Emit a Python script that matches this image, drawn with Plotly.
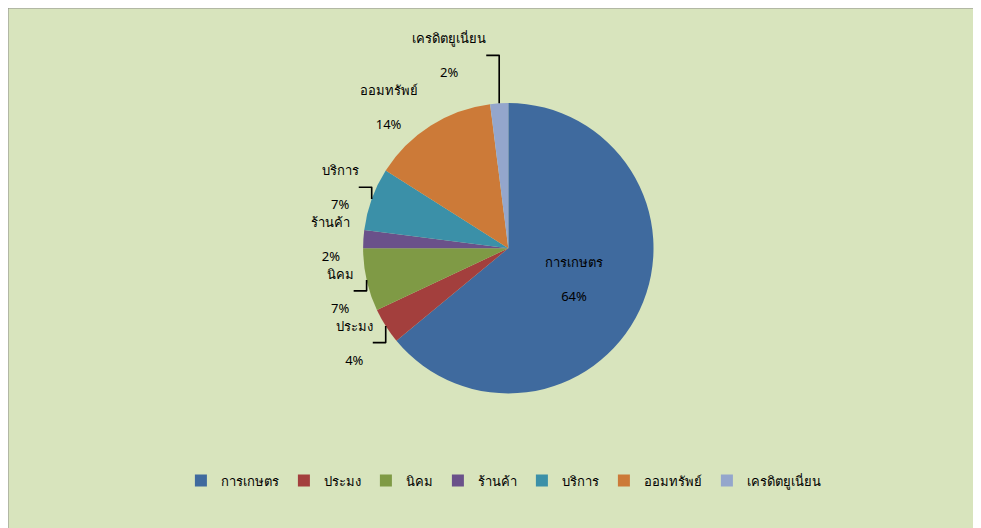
import plotly.graph_objects as go

labels = ["การเกษตร", "ประมง", "นิคม", "ร้านค้า", "บริการ", "ออมทรัพย์", "เครดิตยูเนี่ยน"]
values = [64, 4, 7, 2, 7, 14, 2]
colors = ["#3F6A9E", "#A33F3D", "#7F9A45", "#6A518A", "#3B90A8", "#CC7A38", "#94A6CC"]
text_positions = ["inside", "outside", "outside", "outside", "outside", "outside", "outside"]

fig = go.Figure()
fig.add_trace(go.Pie(
    labels=labels,
    values=values,
    sort=False,
    direction="clockwise",
    rotation=0,
    marker=dict(colors=colors, line=dict(width=0)),
    texttemplate="%{label}<br><br>%{percent:.0%}",
    textposition=text_positions,
    textfont=dict(size=13, color="#000000"),
    insidetextorientation="horizontal",
    domain=dict(x=[0.25, 0.77], y=[0.27, 0.82]),
    hoverinfo="label+percent",
))

fig.update_layout(
    width=981,
    height=528,
    paper_bgcolor="#D8E4BD",
    plot_bgcolor="#D8E4BD",
    margin=dict(l=0, r=0, t=0, b=0),
    font=dict(family="Tahoma, 'Noto Sans', sans-serif", size=13, color="#000000"),
    showlegend=True,
    legend=dict(
        orientation="h",
        x=0.505, xanchor="center",
        y=0.105, yanchor="middle",
        font=dict(size=13),
        itemwidth=30,
        bgcolor="rgba(0,0,0,0)",
    ),
    shapes=[dict(type="rect", xref="paper", yref="paper", x0=0, y0=0, x1=1, y1=1,
                 line=dict(color="#8C8C8C", width=1), fillcolor="rgba(0,0,0,0)")],
)

fig.write_html("out.html")
